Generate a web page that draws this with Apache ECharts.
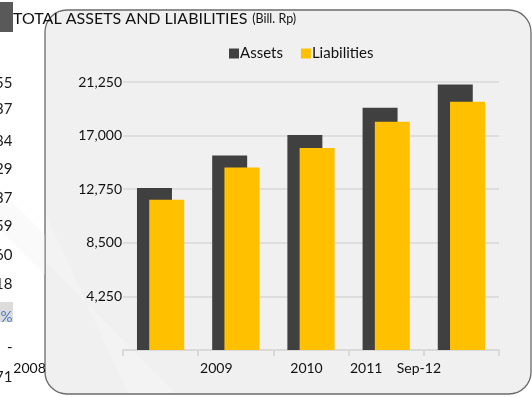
<!DOCTYPE html>
<html>
<head>
<meta charset="utf-8">
<script src="https://cdn.jsdelivr.net/npm/echarts@6/dist/echarts.min.js"></script>
<style>
html,body{margin:0;padding:0;background:#fff;}
#c{width:532px;height:397px;}
</style>
</head>
<body>
<div id="c"></div>
<script>
// ---- data ----
const categories = ['2008', '2009', '2010', '2011', 'Sep-12'];
const assets = [12850, 15430, 17050, 19200, 21050];
const liabilities = [11920, 14480, 16020, 18090, 19680];
const yMax = 21250;
const yStep = 4250;
const seriesNames = ['Assets', 'Liabilities'];
const titleMain = 'TOTAL ASSETS AND LIABILITIES';
const titleUnit = '(Bill. Rp)';
// partially visible table text left of the chart box
const sideTexts = ['55', '37', '84', '29', '37', '59', '60', '18', '%', '-', '71'];

// ---- layout (positions / styles) ----
const sideY = [83, 109, 141, 169, 198, 226, 255, 284, 317, 347, 377];
const labelPad = [262, 39, 9, 40, 85]; // reproduces the off-centre category labels

const FONT = 'Lato';
const chart = echarts.init(document.getElementById('c'), null, {renderer: 'canvas'});

const graphics = [
  {
    type: 'rect', z: -10, silent: true,
    shape: {x: 45, y: 10, width: 486, height: 384, r: 22},
    style: {fill: '#f0f0f0', stroke: '#6b6b6b', lineWidth: 1.3}
  },
  {
    type: 'polygon', z: -9, silent: true,
    shape: {points: [[46, 215], [46, 262], [175, 393], [128, 393]]},
    style: {fill: 'rgba(255,255,255,0.22)'}
  },
  {
    type: 'polygon', z: -9, silent: true,
    shape: {points: [[0, 190], [0, 230], [45, 275], [45, 235]]},
    style: {fill: 'rgba(240,240,240,0.3)'}
  },
  {
    type: 'rect', z: -5, silent: true,
    shape: {x: 0, y: 2, width: 13, height: 30},
    style: {fill: '#595959'}
  },
  {
    type: 'rect', z: -5, silent: true,
    shape: {x: 0, y: 302, width: 13, height: 20},
    style: {fill: '#dcdcdc'}
  }
];
sideTexts.forEach((t, i) => {
  graphics.push({
    type: 'text', z: 5, silent: true,
    x: 12.5, y: sideY[i],
    style: {
      text: t, fontFamily: FONT, fontSize: 15,
      fill: t === '%' ? '#4a78c2' : '#1a1a1a',
      align: 'right', verticalAlign: 'middle'
    }
  });
});

const rich = {};
labelPad.forEach((p, i) => {
  rich['l' + i] = {fontFamily: FONT, fontSize: 14, color: '#111', padding: [0, p, 0, 0]};
});

const option = {
  animation: false,
  textStyle: {fontFamily: FONT},
  graphic: graphics,
  title: {
    text: '{a|' + titleMain + '} {b|' + titleUnit + '}',
    left: 13, top: 10, padding: 0,
    textStyle: {
      fontWeight: 'normal',
      rich: {
        a: {fontFamily: FONT, fontSize: 16, fontWeight: 'normal', color: '#111'},
        b: {fontFamily: FONT, fontSize: 12.5, fontWeight: 'normal', color: '#111'}
      }
    }
  },
  legend: {
    data: seriesNames,
    left: 224, top: 41,
    icon: 'rect', itemWidth: 10, itemHeight: 10, itemGap: 18,
    textStyle: {fontFamily: FONT, fontSize: 15, color: '#111', padding: [0, 0, 0, -4]}
  },
  grid: {left: 123, right: 33, top: 82, bottom: 47, containLabel: false},
  xAxis: {
    type: 'category',
    data: categories,
    boundaryGap: true,
    axisLine: {lineStyle: {color: '#d9d9d9', width: 2}},
    axisTick: {show: true, length: 6, lineStyle: {color: '#d9d9d9', width: 2}},
    axisLabel: {
      interval: 0, margin: 11,
      formatter: (v, i) => '{l' + i + '|' + v + '}',
      rich: rich
    }
  },
  yAxis: {
    type: 'value',
    min: 0, max: yMax, interval: yStep,
    axisLine: {show: false},
    axisTick: {show: false},
    splitLine: {lineStyle: {color: '#d9d9d9', width: 1.5}},
    axisLabel: {
      margin: 1,
      fontFamily: FONT, fontSize: 14, color: '#111',
      formatter: v => v === 0 ? '' : v.toLocaleString('en-US')
    }
  },
  series: [
    {
      name: seriesNames[0], type: 'bar', data: assets,
      barWidth: 35, barGap: '-65%',
      itemStyle: {color: '#404040'}
    },
    {
      name: seriesNames[1], type: 'bar', data: liabilities,
      barWidth: 35, barGap: '-65%',
      itemStyle: {color: '#ffc000'}
    }
  ]
};
chart.setOption(option);
</script>
</body>
</html>
